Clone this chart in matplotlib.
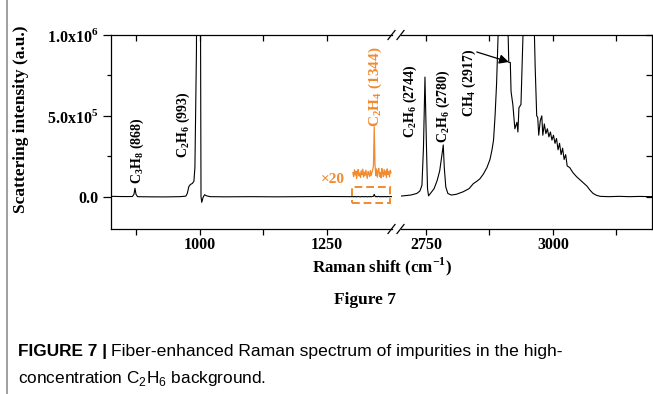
import numpy as np
import matplotlib
matplotlib.use("Agg")
import matplotlib.pyplot as plt
from matplotlib.lines import Line2D
from matplotlib.patches import Rectangle

plt.rcParams['font.family'] = ['Liberation Serif', 'DejaVu Serif']
plt.rcParams['mathtext.fontset'] = 'custom'
plt.rcParams['mathtext.rm'] = 'Liberation Serif'
plt.rcParams['mathtext.bf'] = 'Liberation Serif:bold'
plt.rcParams['mathtext.sf'] = 'Liberation Sans'

# spectrum (intensity in counts)
low_x = [825, 840, 855, 867, 870, 872, 874, 877, 900, 930, 960, 972, 975, 978,
         981, 985, 988, 990, 993, 997.5, 1002, 1003.5, 1006, 1009, 1013, 1020,
         1050, 1100, 1150, 1200, 1250, 1299]
low_y = [2000, 1000, 500, 1000, 15000, 52000, 15000, 0, -1000, -1500, 0, 3000,
         20000, 62000, 75000, 82000, 95000, 180000, 900000, 5000000, 0, -35000,
         -5000, 12000, 5000, 0, -1000, 0, -1000, 0, 1000, 0]

# window around C2H4 (1344), shown x20 in orange
win_x = np.arange(1301, 1377, 1.5)
win_y = [300, -900, 1200, -400, 800, -1500, 600, 1300, -700, 200,
         -1200, 900, -300, 1400, -1000, 500, -600, 1100, -200, -1400,
         700, 100, -800, 1000, -500, 400, 1200, 2500, 14500, 3000,
         -600, 1500, -1100, 900, 1700, -800, 400, -1300, 1600, 200,
         -900, 1300, -400, 800, -1200, 1500, -200, 600, -1000, 1100, 300]
win_gain = 20
win_offset = 142000

high_x = [2699, 2705, 2720, 2732, 2738, 2742, 2745, 2748, 2751, 2753, 2755, 2760,
          2766, 2772, 2777, 2781, 2784, 2786, 2789, 2793, 2800, 2810, 2823, 2835,
          2843, 2850, 2856, 2863, 2870, 2876, 2880, 2883, 2886, 2889, 2892, 2900,
          2908, 2911, 2913, 2916, 2917.5, 2921, 2925, 2929, 2931, 2933, 2937, 2941,
          2950, 2962, 2965, 2968, 2970, 2972, 2975, 2978, 2980, 2983, 2986, 2989,
          2992, 2995, 2998, 3001, 3004, 3007, 3010, 3013, 3016, 3019, 3022, 3025,
          3028, 3033, 3039, 3046, 3053, 3060, 3067, 3073, 3079, 3086, 3093, 3110,
          3130, 3150, 3170, 3195]
high_y = [3000, 5000, 10000, 20000, 35000, 70000, 300000, 740000, 300000, 50000,
          5000, 25000, 50000, 100000, 160000, 250000, 320000, 180000, 60000, 20000,
          10000, 15000, 30000, 50000, 80000, 95000, 110000, 140000, 180000, 230000,
          290000, 350000, 500000, 700000, 1000000, 3000000, 2000000, 1100000, 830000,
          830000, 650000, 570000, 420000, 460000, 400000, 550000, 570000, 1000000,
          3000000, 1200000, 800000, 500000, 490000, 380000, 470000, 500000, 380000,
          450000, 390000, 420000, 370000, 400000, 350000, 380000, 330000, 360000,
          290000, 330000, 260000, 300000, 230000, 260000, 190000, 180000, 150000,
          125000, 105000, 85000, 65000, 40000, 20000, 8000, 2000, 0, 2000, 0, 1500, 0]

orange = '#F28A2E'
W, H = 653, 394

fig = plt.figure(figsize=(W / 100, H / 100), dpi=100)
bot, hgt = 1 - 229 / H, (229 - 35) / H
ax1 = fig.add_axes([111 / W, bot, (392 - 111) / W, hgt])
ax2 = fig.add_axes([401 / W, bot, (652 - 401) / W, hgt])

lx = np.concatenate([low_x, win_x, [1378]])
ly = np.concatenate([low_y, win_y, [0]])
ax1.plot(lx, ly, color='black', lw=0.8)
ax1.plot(win_x, win_offset + win_gain * np.array(win_y), color=orange, lw=0.9)
ax2.plot(high_x, high_y, color='black', lw=0.8)

ax1.add_patch(Rectangle((1299, -42000), 76, 103000, fill=False, edgecolor=orange,
                        lw=1.4, linestyle=(0, (4, 2))))

ax1.set_xlim(824.8, 1378)
ax2.set_xlim(2700.8, 3195)
for ax in (ax1, ax2):
    ax.set_ylim(-200000, 1000000)
    for s in ax.spines.values():
        s.set_linewidth(0.9)

ax1.spines['right'].set_visible(False)
ax2.spines['left'].set_visible(False)

ax1.set_xticks([1000, 1250])
ax1.set_xticks([875, 1125], minor=True)
ax2.set_xticks([2750, 3000])
ax2.set_xticks([2875, 3125], minor=True)
ax1.set_yticks([0, 500000, 1000000])
ax1.set_yticks([250000, 750000], minor=True)
ax1.set_yticklabels(['0.0', r'5.0x10$^{\mathbf{5}}$', r'1.0x10$^{\mathbf{6}}$'],
                    fontsize=11.5, fontweight='bold')
ax2.set_yticks([0, 250000, 500000, 750000, 1000000])

for ax in (ax1, ax2):
    ax.tick_params(axis='x', which='both', direction='out', length=4, width=0.9,
                   top=False, pad=2)
    ax.set_xticklabels(ax.get_xticks().astype(int), fontsize=11.5, fontweight='bold')
    sec = ax.secondary_xaxis('top')
    sec.set_xticks(list(ax.get_xticks()) + list(ax.get_xticks(minor=True)))
    sec.tick_params(direction='in', length=4, width=0.9, labeltop=False)
    sec.spines['top'].set_visible(False)

ax1.tick_params(axis='y', which='major', direction='out', length=6, width=0.9, pad=3)
ax1.tick_params(axis='y', which='minor', direction='out', length=3, width=0.9)
ax2.tick_params(axis='y', which='both', left=False, right=True, labelleft=False,
                direction='in', length=4, width=0.9)

# break marks
for xs in ((388, 395), (397, 404)):
    for yc in (35, 229):
        fig.add_artist(Line2D([xs[0] / W, xs[1] / W],
                              [1 - (yc + 4.5) / H, 1 - (yc - 4.5) / H],
                              color='black', lw=0.9))

# peak labels
lab = dict(rotation=90, ha='center', va='bottom', fontsize=10, fontweight='bold')
ax1.text(876, 80000, r'C$_\mathbf{3}$H$_\mathbf{8}$ (868)', **lab)
ax1.text(967, 240000, r'C$_\mathbf{2}$H$_\mathbf{6}$ (993)', **lab)
ax1.text(1345, 430000, r'C$_\mathbf{2}$H$_\mathbf{4}$ (1344)', rotation=90, ha='center',
         va='bottom', fontsize=11, fontweight='bold', color=orange)
ax1.text(1262, 108000, '×20', ha='center', va='center', fontsize=11, color=orange,
         fontweight='bold')
ax2.text(2720, 360000, r'C$_\mathbf{2}$H$_\mathbf{6}$ (2744)', **lab)
ax2.text(2785, 330000, r'C$_\mathbf{2}$H$_\mathbf{6}$ (2780)', **lab)
ax2.text(2835, 490000, r'CH$_\mathbf{4}$ (2917)', **lab)
ax2.annotate('', xy=(2913, 833000), xytext=(2850, 895000),
             arrowprops=dict(arrowstyle='-|>', color='black', lw=0.9,
                             mutation_scale=14, shrinkA=0, shrinkB=0))

fig.text(21 / W, 1 - 119 / H, 'Scattering intensity (a.u.)', rotation=90,
         ha='center', va='center', fontsize=12.5, fontweight='bold')
fig.text(382 / W, 1 - 267 / H, r'Raman shift (cm$^{\mathbf{-1}}$)', ha='center',
         va='center', fontsize=12.2, fontweight='bold')
fig.text(365 / W, 1 - 300 / H, 'Figure 7', ha='center', va='center',
         fontsize=12.5, fontweight='bold')

# caption
fig.add_artist(Line2D([7 / W, 7 / W], [0, 1], color='#8f8f8f', lw=1.2))
cap_font = ['Liberation Sans', 'DejaVu Sans']
t1 = fig.text(18 / W, 1 - 356 / H, 'FIGURE 7 |', fontsize=12.4, fontweight='bold',
              family=cap_font, va='baseline')
fig.canvas.draw()
bb = t1.get_window_extent()
fig.text(bb.x1 / W + 4 / W, 1 - 356 / H,
         'Fiber-enhanced Raman spectrum of impurities in the high-',
         fontsize=12.6, family=cap_font, va='baseline')
fig.text(18 / W, 1 - 383 / H,
         r'concentration C$_\mathsf{2}$H$_\mathsf{6}$ background.',
         fontsize=12.4, family=cap_font, va='baseline')

fig.savefig('out.png', dpi=100)
